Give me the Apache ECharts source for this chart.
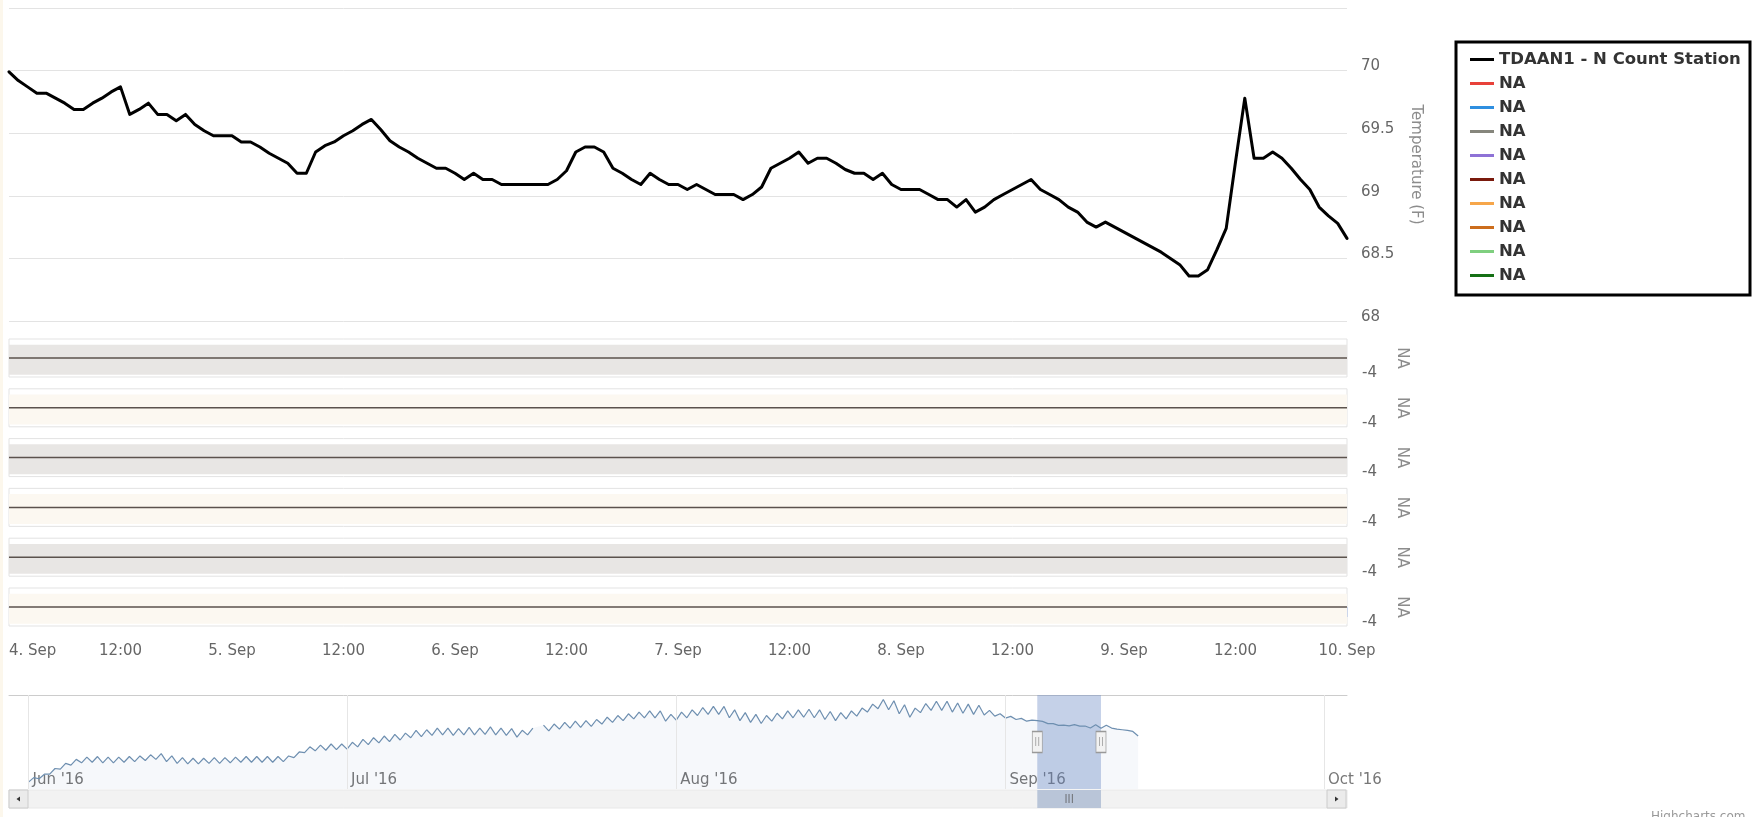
<!DOCTYPE html>
<html><head><meta charset="utf-8">
<script src="https://cdn.jsdelivr.net/npm/echarts@6/dist/echarts.min.js"></script>
<style>html,body{margin:0;padding:0;background:#fff;}#c{width:1754px;height:817px;}</style>
</head><body><div id="c"></div>
<script>
const MONTHS = ['Jan','Feb','Mar','Apr','May','Jun','Jul','Aug','Sep','Oct','Nov','Dec'];
const HOUR = 3600000;
const viewStart = Date.UTC(2016, 8, 4);
const viewEnd = Date.UTC(2016, 8, 10);
const mainName = 'TDAAN1 - N Count Station';

// hourly temperature (F), 4 Sep 00:00 .. 10 Sep 00:00
const temps = [
  69.99, 69.92, 69.87, 69.82, 69.82, 69.78, 69.74, 69.69, 69.69, 69.74, 69.78, 69.83,
  69.87, 69.65, 69.69, 69.74, 69.65, 69.65, 69.60, 69.65, 69.57, 69.52, 69.48, 69.48,
  69.48, 69.43, 69.43, 69.39, 69.34, 69.30, 69.26, 69.18, 69.18, 69.35, 69.40, 69.43,
  69.48, 69.52, 69.57, 69.61, 69.53, 69.44, 69.39, 69.35, 69.30, 69.26, 69.22, 69.22,
  69.18, 69.13, 69.18, 69.13, 69.13, 69.09, 69.09, 69.09, 69.09, 69.09, 69.09, 69.13,
  69.20, 69.35, 69.39, 69.39, 69.35, 69.22, 69.18, 69.13, 69.09, 69.18, 69.13, 69.09,
  69.09, 69.05, 69.09, 69.05, 69.01, 69.01, 69.01, 68.97, 69.01, 69.07, 69.22, 69.26,
  69.30, 69.35, 69.26, 69.30, 69.30, 69.26, 69.21, 69.18, 69.18, 69.13, 69.18, 69.09,
  69.05, 69.05, 69.05, 69.01, 68.97, 68.97, 68.91, 68.97, 68.87, 68.91, 68.97, 69.01,
  69.05, 69.09, 69.13, 69.05, 69.01, 68.97, 68.91, 68.87, 68.79, 68.75, 68.79, 68.75,
  68.71, 68.67, 68.63, 68.59, 68.55, 68.50, 68.45, 68.36, 68.36, 68.41, 68.57, 68.74,
  69.27, 69.78, 69.30, 69.30, 69.35, 69.30, 69.22, 69.13, 69.05, 68.91, 68.84, 68.78, 68.66
];

const tempMin = 68, tempMax = 70.5, tempStep = 0.5;

const naNames = ['NA_1','NA_2','NA_3','NA_4','NA_5','NA_6','NA_7','NA_8','NA_9'];
const naColors = ['#e8413a','#2f8fe0','#86867c','#8e72d6','#7a1a0d','#f6a64a','#cc6d1c','#7fcf7f','#157015'];

// six "NA" strip panels
const panelLevels = [0, 0];
const panelBandColors = ['#e8e6e4','#fcf8f1','#e8e6e4','#fcf8f1','#e8e6e4','#fcf8f1'];

// navigator overview, 12-hourly from 1 Jun 2016
const navStart = Date.UTC(2016, 5, 1);
const navJune = [
  59.2, 60.0, 59.8, 60.6, 60.6, 61.6, 61.5, 62.5, 62.2, 63.2,
  62.6, 63.6, 62.7, 63.7, 62.6, 63.6, 62.6, 63.6, 62.7, 63.7,
  62.8, 63.8, 63.0, 64.0, 63.2, 64.2, 62.8, 63.8, 62.5, 63.5,
  62.4, 63.4, 62.4, 63.4, 62.5, 63.5, 62.5, 63.5, 62.6, 63.6,
  62.7, 63.7, 62.7, 63.7, 62.7, 63.7, 62.7, 63.7, 62.8, 63.8,
  63.5, 64.5, 64.4, 65.4, 64.7, 65.7, 64.8, 65.9, 64.9, 65.9
];
const navJuly = [
  65.0, 66.2, 65.4, 66.7, 65.8, 67.0, 66.1, 67.3, 66.3, 67.6,
  66.6, 67.8, 67.0, 68.3, 67.2, 68.4, 67.4, 68.7, 67.5, 68.7,
  67.4, 68.6, 67.5, 68.8, 67.5, 68.7, 67.6, 68.9, 67.5, 68.7,
  67.4, 68.6, 67.1, 68.3, 67.5, 68.7, null, 69.2, 68.2, 69.4,
  68.5, 69.7, 68.7, 69.9, 68.8, 70.0, 69.0, 70.2, 69.4, 70.6,
  69.7, 70.9, 70.0, 71.2, 70.3, 71.5, 70.5, 71.7, 70.5, 71.7,
  69.9, 71.1
];
const navAugust = [
  70.1, 71.5, 70.5, 71.9, 70.9, 72.3, 71.1, 72.5, 71.1, 72.5,
  70.5, 71.9, 70.0, 71.4, 69.7, 71.1, 69.5, 70.9, 69.9, 71.3,
  70.3, 71.7, 70.5, 71.9, 70.6, 72.0, 70.5, 71.9, 70.2, 71.6,
  70.0, 71.4, 70.3, 71.7, 70.8, 72.2, 71.5, 72.9, 72.1, 73.7,
  71.9, 73.5, 71.2, 72.8, 70.6, 72.2, 71.4, 73.0, 71.8, 73.4,
  71.8, 73.4, 71.5, 73.1, 71.3, 72.9, 71.1, 72.7, 71.0, 71.8,
  70.8, 71.2
];
const navSeptember = [
  70.45, 70.75, 70.2, 70.4, 69.9, 70.1, 69.99, 69.87, 69.48, 69.48,
  69.18, 69.2, 69.09, 69.3, 69.05, 69.05, 68.71, 69.27, 68.66, 69.2,
  68.7, 68.5, 68.4, 68.3, 68.1, 67.3
];
const navMin = Date.UTC(2016, 4, 30, 4);
const navMax = Date.UTC(2016, 9, 3, 4);
const navYMin = 58, navYMax = 74.5;
const monthStarts = [Date.UTC(2016,5,1), Date.UTC(2016,6,1), Date.UTC(2016,7,1), Date.UTC(2016,8,1), Date.UTC(2016,9,1)];

// ---------- build ----------
const FONT = 'DejaVu Sans';
const mainData = temps.map((v, i) => [viewStart + i * HOUR, v]);
const navValues = navJune.concat(navJuly, navAugust, navSeptember);
const navData = navValues.map((v, i) => [navStart + i * 12 * HOUR, v]);

const L = 9, W = 1338;
const grids = [{left: L, top: 8, width: W, height: 313, containLabel: false, outerBoundsMode: 'none'}];
const xAxes = [{gridIndex: 0, type: 'value', min: viewStart, max: viewEnd, show: false}];
const yAxes = [{
  gridIndex: 0, type: 'value', position: 'right', min: tempMin, max: tempMax, interval: tempStep,
  axisLine: {show: false}, axisTick: {show: false},
  splitLine: {show: true, lineStyle: {color: '#e3e3e3', width: 1}},
  axisLabel: {showMaxLabel: false, margin: 14, color: '#666', fontSize: 15, fontFamily: FONT, verticalAlign: 'bottom', lineHeight: 8},
  name: 'Temperature (F)', nameLocation: 'middle', nameRotate: -90, nameGap: 61,
  nameTextStyle: {color: '#8c8c8c', fontSize: 15, fontFamily: FONT}
}];
const series = [{
  name: mainName, type: 'line', xAxisIndex: 0, yAxisIndex: 0, data: mainData,
  showSymbol: false, symbol: 'none', color: '#000',
  lineStyle: {color: '#000', width: 3, join: 'round', cap: 'round'}, silent: true, z: 5
}];
naNames.forEach((n, i) => series.push({
  name: n, type: 'line', xAxisIndex: 0, yAxisIndex: 0, data: [], color: naColors[i],
  itemStyle: {color: naColors[i]}, lineStyle: {color: naColors[i]}
}));

for (let p = 0; p < 6; p++) {
  const gi = p + 1;
  grids.push({left: L, top: 339 + 49.8 * p, width: W, height: 38, show: true,
    backgroundColor: '#fff', borderColor: '#e3e3e3', borderWidth: 1, containLabel: false, outerBoundsMode: 'none'});
  const last = p === 5;
  xAxes.push(last ? {
    gridIndex: gi, type: 'value', min: viewStart, max: viewEnd, interval: 12 * HOUR, offset: 6,
    axisLine: {show: true, lineStyle: {color: '#ccd6eb', width: 1}},
    axisTick: {show: true, length: 10, lineStyle: {color: '#ccd6eb'}},
    splitLine: {show: false},
    axisLabel: {margin: 12, color: '#666', fontSize: 15, fontFamily: FONT, alignMinLabel: 'left',
      formatter: v => { const d = new Date(v); return d.getUTCHours() === 0 ? d.getUTCDate() + '. ' + MONTHS[d.getUTCMonth()] : '12:00'; }}
  } : {gridIndex: gi, type: 'value', min: viewStart, max: viewEnd, show: false});
  yAxes.push({
    gridIndex: gi, type: 'value', position: 'right', min: -4, max: 4, interval: 4,
    axisLine: {show: false}, axisTick: {show: false}, splitLine: {show: false},
    axisLabel: {margin: 15, color: '#666', fontSize: 15, fontFamily: FONT, verticalAlign: 'bottom', lineHeight: 8,
      formatter: v => v === -4 ? '-4' : ''},
    name: 'NA', nameLocation: 'middle', nameRotate: -90, nameGap: 47,
    nameTextStyle: {color: '#8c8c8c', fontSize: 15, fontFamily: FONT}
  });
  series.push({
    type: 'line', xAxisIndex: gi, yAxisIndex: gi, silent: true, showSymbol: false, symbol: 'none',
    data: [[viewStart, panelLevels[0]], [viewEnd, panelLevels[1]]],
    lineStyle: {color: '#5b524d', width: 1.5}, z: 3,
    markArea: {silent: true, itemStyle: {color: panelBandColors[p]},
      data: [[{yAxis: -3.5}, {yAxis: 2.8}]]}
  });
}

// navigator
const NG = 7;
grids.push({left: L, top: 695, width: W, height: 94, containLabel: false, outerBoundsMode: 'none'});
xAxes.push({
  gridIndex: NG, type: 'value', min: navMin, max: navMax,
  axisLine: {show: false}, axisTick: {show: false}, splitLine: {show: false},
  axisLabel: {inside: true, customValues: monthStarts, margin: 1, align: 'left', padding: [0, 0, 0, 4],
    color: '#777', fontSize: 15, fontFamily: FONT,
    formatter: v => { const d = new Date(v); return MONTHS[d.getUTCMonth()] + " '" + String(d.getUTCFullYear()).slice(2); }}
});
xAxes.push({
  gridIndex: NG, type: 'value', position: 'top', min: navMin, max: navMax,
  axisLine: {show: true, lineStyle: {color: '#cccccc', width: 1}},
  axisTick: {show: false}, axisLabel: {show: false}, splitLine: {show: false}
});
yAxes.push({gridIndex: NG, type: 'value', min: navYMin, max: navYMax, show: false});
// area fill (continuous)
series.push({
  type: 'line', xAxisIndex: 7, yAxisIndex: 7, data: navData, silent: true,
  showSymbol: false, symbol: 'none', connectNulls: true,
  lineStyle: {width: 0, opacity: 0},
  areaStyle: {color: 'rgba(51,92,173,0.06)', origin: 'start'},
  markLine: {silent: true, symbol: ['none', 'none'], label: {show: false},
    lineStyle: {color: '#e6e6e6', width: 1, type: 'solid'},
    data: monthStarts.map(t => ({xAxis: t}))}
});
// line with gap
series.push({
  type: 'line', xAxisIndex: 7, yAxisIndex: 7, data: navData, silent: true,
  showSymbol: false, symbol: 'none', connectNulls: false,
  lineStyle: {color: '#6e8fb0', width: 1.2},
  markArea: {silent: true, itemStyle: {color: 'rgba(102,133,194,0.38)'},
    data: [[{xAxis: viewStart}, {xAxis: viewEnd}]]},
  markPoint: {silent: true, symbol: 'rect', symbolSize: [10, 21],
    itemStyle: {color: '#f2f2f2', borderColor: '#999', borderWidth: 1},
    label: {show: true, position: 'inside', formatter: '||', color: '#999', fontSize: 9, fontFamily: FONT},
    data: [{coord: [viewStart, (navYMin + navYMax) / 2]}, {coord: [viewEnd, (navYMin + navYMax) / 2]}]}
});

// scrollbar
const SG = 8;
grids.push({left: L, top: 790, width: W, height: 18, show: true, backgroundColor: '#f2f2f2',
  borderColor: '#e8e8e8', borderWidth: 1, containLabel: false, outerBoundsMode: 'none'});
xAxes.push({gridIndex: SG, type: 'value', min: navMin, max: navMax, show: false});
yAxes.push({gridIndex: SG, type: 'value', min: 0, max: 1, show: false});
series.push({
  type: 'line', xAxisIndex: 9, yAxisIndex: 8, silent: true, showSymbol: false, symbol: 'none',
  data: [[viewStart, 0.5], [viewEnd, 0.5]], lineStyle: {opacity: 0},
  markArea: {silent: true, itemStyle: {color: '#b9c5d8'},
    label: {show: true, position: 'inside', formatter: '|||', color: '#555', fontSize: 9, fontFamily: FONT},
    data: [[{xAxis: viewStart}, {xAxis: viewEnd}]]}
});

const option = {
  animation: false,
  backgroundColor: '#fff',
  textStyle: {fontFamily: FONT},
  grid: grids, xAxis: xAxes, yAxis: yAxes, series: series,
  legend: {
    orient: 'vertical', left: 1470, top: 51, padding: 0,
    itemWidth: 24, itemHeight: 3, itemGap: 7, icon: 'rect', selectedMode: false,
    data: [mainName].concat(naNames),
    formatter: n => n.indexOf('NA_') === 0 ? 'NA' : n,
    textStyle: {fontFamily: FONT, fontSize: 16.5, fontWeight: 'bold', color: '#333', lineHeight: 17}
  },
  graphic: [
    {type: 'rect', left: 0, top: 0, shape: {width: 3, height: 817}, style: {fill: '#fcf7ec'}, silent: true},
    {type: 'rect', shape: {x: 1456, y: 42, width: 294, height: 253}, style: {fill: 'none', stroke: '#000', lineWidth: 3}, silent: true, z: 10},
    {type: 'rect', shape: {x: 9, y: 790, width: 19, height: 18}, style: {fill: '#ebebeb', stroke: '#cccccc', lineWidth: 1}, silent: true, z: 10},
    {type: 'polygon', shape: {points: [[16.5, 799], [20, 796.5], [20, 801.5]]}, style: {fill: '#333'}, silent: true, z: 11},
    {type: 'rect', shape: {x: 1327, y: 790, width: 19, height: 18}, style: {fill: '#ebebeb', stroke: '#cccccc', lineWidth: 1}, silent: true, z: 10},
    {type: 'polygon', shape: {points: [[1338.5, 799], [1335, 796.5], [1335, 801.5]]}, style: {fill: '#333'}, silent: true, z: 11},
    {type: 'text', left: 1651, top: 811, style: {text: 'Highcharts.com', fill: '#999', font: '12px "DejaVu Sans"'}, silent: true}
  ]
};
const chart = echarts.init(document.getElementById('c'), null, {renderer: 'canvas'});
chart.setOption(option);
</script></body></html>
